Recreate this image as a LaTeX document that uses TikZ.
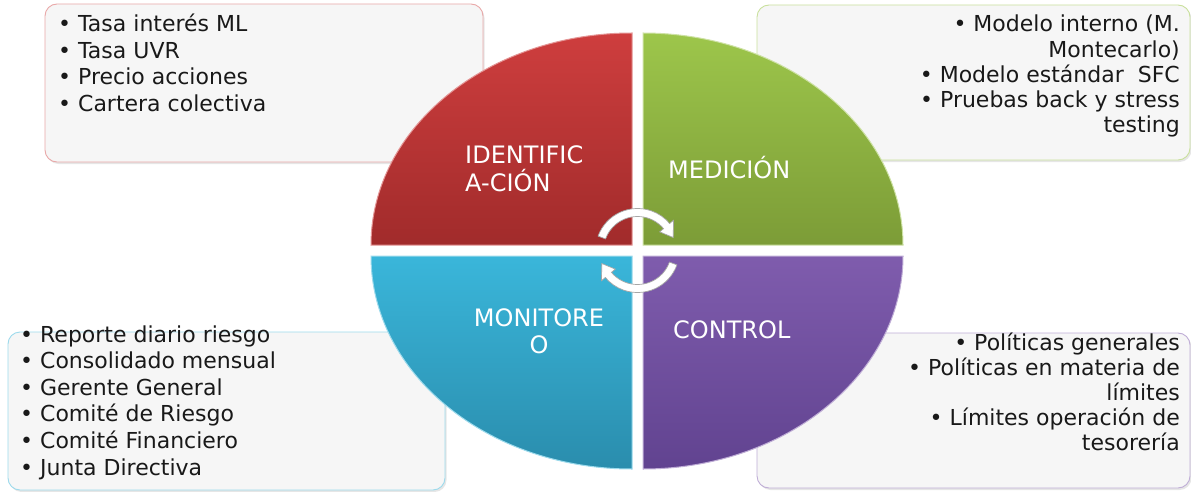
\documentclass[tikz,border=0pt]{standalone}
\usepackage{fontspec}
\setmainfont{DejaVu Sans}
\usetikzlibrary{shadows}

\definecolor{rojoA}{HTML}{CE3E3E}
\definecolor{rojoB}{HTML}{A12B2B}
\definecolor{verdeA}{HTML}{9DC64B}
\definecolor{verdeB}{HTML}{7C9C37}
\definecolor{azulA}{HTML}{3AB6DA}
\definecolor{azulB}{HTML}{2A8DAD}
\definecolor{moradoA}{HTML}{7F5CAD}
\definecolor{moradoB}{HTML}{614390}

\begin{document}
\begin{tikzpicture}[x=1pt, y=1pt,
  caja/.style={draw, rounded corners=12pt, fill=gray!7, line width=0.9pt, inner sep=0pt,
    drop shadow={opacity=0.2, shadow xshift=1.5pt, shadow yshift=-2pt}},
  lista/.style={inner sep=0pt, text=black!90},
  etiqueta/.style={inner sep=0pt, text=white, font=\fontsize{24}{27}\selectfont},
  flecha/.style={fill=white, draw=black!35, line width=0.7pt}]
\useasboundingbox (0,0) rectangle (1191,491);
\tikzset{ciclo/.pic={
  \filldraw[flecha] (160:42) arc[start angle=160, end angle=40, radius=42] -- (40:47) -- (20:38)
    -- (40:29) -- (40:34) arc[start angle=40, end angle=160, radius=34] -- cycle;
}}

% cajas de texto
\node[caja, draw=rojoA!45, minimum width=438, minimum height=158] (idbox) at (264,408) {};
\node[caja, draw=verdeA!55, minimum width=433, minimum height=155] (medbox) at (973.5,408.5) {};
\node[caja, draw=azulA!50, minimum width=437, minimum height=158] (monbox) at (226.5,80) {};
\node[caja, draw=moradoA!50, minimum width=433, minimum height=155] (ctrlbox) at (973.5,80.5) {};

% (base = linea de base de la ultima linea)
\node[lista, font=\fontsize{22}{26.5}\selectfont, anchor=base west, align=left] (idlist) at (58,379.5)
  {• Tasa interés ML\\• Tasa UVR\\• Precio acciones\\• Cartera colectiva};
\node[lista, font=\fontsize{22}{25.2}\selectfont, anchor=base east, align=right] (medlist) at (1180,358.2)
  {• Modelo interno (M.\\Montecarlo)\\• Modelo estándar\ \ SFC\\• Pruebas back y stress\\testing};
\node[lista, font=\fontsize{22}{26.6}\selectfont, anchor=base west, align=left] (monlist) at (20,16)
  {• Reporte diario riesgo\\• Consolidado mensual\\• Gerente General\\• Comité de Riesgo\\• Comité Financiero\\• Junta Directiva};
\node[lista, font=\fontsize{22}{25}\selectfont, anchor=base east, align=right] (ctrllist) at (1180,41)
  {• Políticas generales\\• Políticas en materia de\\límites\\• Límites operación de\\tesorería};

% cuadrantes
\shade[top color=rojoA, bottom color=rojoB, draw=rojoA!55!white, line width=1pt]
  (632,246) -- (371,246) arc[start angle=180, end angle=90, x radius=261, y radius=212] -- cycle;
\shade[top color=verdeA, bottom color=verdeB, draw=verdeA!50!white, line width=1pt]
  (643,246) -- (643,458) arc[start angle=90, end angle=0, x radius=260, y radius=212] -- cycle;
\shade[top color=azulA, bottom color=azulB, draw=azulA!50!white, line width=1pt]
  (632,235) -- (632,22) arc[start angle=270, end angle=180, x radius=261, y radius=213] -- cycle;
\shade[top color=moradoA, bottom color=moradoB, draw=moradoA!50!white, line width=1pt]
  (643,235) -- (903,235) arc[start angle=0, end angle=-90, x radius=260, y radius=213] -- cycle;

\node[etiqueta, anchor=base west, align=left] (ident) at (465,300) {IDENTIFIC\\A-CIÓN};
\node[etiqueta, anchor=base west] (medic) at (668,313) {MEDICIÓN};
\node[etiqueta, anchor=base, align=center] (monit) at (539,138) {MONITORE\\O};
\node[etiqueta, anchor=base west] (contr) at (673,153) {CONTROL};

% flechas del ciclo
\pic at (637.5,240.5) {ciclo};
\pic[rotate=180] at (637.5,240.5) {ciclo};
\end{tikzpicture}
\end{document}
